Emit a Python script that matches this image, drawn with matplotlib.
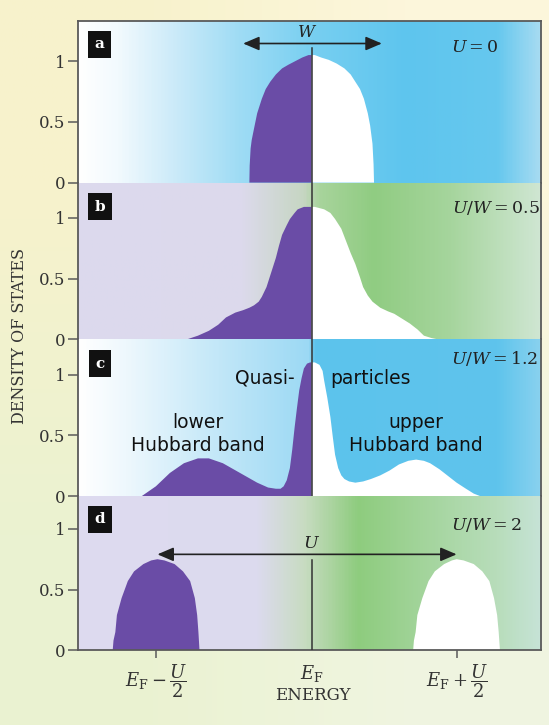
"""
Density of states of the Hubbard model for growing U/W (Mott transition sketch).
"""
import numpy as np
import matplotlib.pyplot as plt
from matplotlib.colors import LinearSegmentedColormap

plt.rcParams["font.family"] = ["DejaVu Serif"]
plt.rcParams["mathtext.fontset"] = "dejavuserif"

# -------------------- Data (energy in units of U/2 from E_F) --------------------
ytick_vals = [0, 0.5, 1]
ytick_labels = ["0", "0.5", "1"]
xtick_vals = [-1.0, 0.0, 0.93]
xtick_labels = [r"$E_{\rm F}-\dfrac{U}{2}$", r"$E_{\rm F}$", r"$E_{\rm F}+\dfrac{U}{2}$"]

panel_letters = ["a", "b", "c", "d"]
panel_titles = [r"$U = 0$", r"$U/W = 0.5$", r"$U/W = 1.2$", r"$U/W = 2$"]

# a: U = 0
a_lo_x = [-0.40, -0.398, -0.392, -0.385, -0.374, -0.35, -0.32, -0.295, -0.266, -0.23, -0.19, -0.15, -0.105, -0.06, -0.02, 0.0]
a_lo_y = [0.0, 0.14, 0.28, 0.35, 0.42, 0.57, 0.69, 0.77, 0.83, 0.89, 0.94, 0.97, 1.00, 1.03, 1.05, 1.05]
a_up_x = [0.0, 0.02, 0.06, 0.11, 0.16, 0.21, 0.25, 0.28, 0.31, 0.335, 0.36, 0.375, 0.39, 0.397, 0.40]
a_up_y = [1.05, 1.05, 1.03, 1.01, 0.98, 0.94, 0.89, 0.83, 0.77, 0.69, 0.57, 0.47, 0.32, 0.15, 0.0]

# b: U/W = 0.5
b_lo_x = [-0.80, -0.73, -0.66, -0.60, -0.55, -0.49, -0.44, -0.40, -0.37, -0.34, -0.32, -0.29, -0.27, -0.25,
          -0.23, -0.21, -0.19, -0.16, -0.14, -0.11, -0.09, -0.05, -0.02, 0.0]
b_lo_y = [0.0, 0.03, 0.07, 0.12, 0.18, 0.22, 0.24, 0.26, 0.28, 0.31, 0.35, 0.43, 0.51, 0.59,
          0.67, 0.77, 0.86, 0.94, 0.99, 1.04, 1.07, 1.09, 1.09, 1.09]
b_up_x = [0.0, 0.02, 0.05, 0.08, 0.12, 0.15, 0.19, 0.22, 0.25, 0.28, 0.31, 0.33, 0.36, 0.39, 0.44, 0.49,
          0.53, 0.58, 0.63, 0.68, 0.72, 0.77, 0.81]
b_up_y = [1.09, 1.09, 1.08, 1.07, 1.04, 0.99, 0.91, 0.81, 0.71, 0.62, 0.51, 0.43, 0.36, 0.31, 0.26, 0.23,
          0.21, 0.17, 0.13, 0.08, 0.03, 0.01, 0.0]

# c: U/W = 1.2
c_lo_x = [-1.09, -1.00, -0.91, -0.82, -0.73, -0.66, -0.57, -0.46, -0.35, -0.28, -0.23, -0.20, -0.18,
          -0.16, -0.14, -0.125, -0.11, -0.095, -0.08, -0.065, -0.05, -0.03, -0.01, 0.0]
c_lo_y = [0.0, 0.08, 0.19, 0.27, 0.31, 0.31, 0.27, 0.19, 0.11, 0.07, 0.06, 0.06, 0.08,
          0.13, 0.23, 0.38, 0.56, 0.72, 0.87, 0.97, 1.05, 1.09, 1.10, 1.10]
c_up_x = [0.0, 0.02, 0.05, 0.07, 0.08, 0.10, 0.12, 0.135, 0.15, 0.17, 0.19, 0.21, 0.24, 0.28, 0.33, 0.38, 0.44,
          0.50, 0.56, 0.62, 0.67, 0.72, 0.76, 0.82, 0.87, 0.93, 0.99, 1.04, 1.08]
c_up_y = [1.10, 1.10, 1.08, 1.03, 0.95, 0.81, 0.65, 0.49, 0.34, 0.23, 0.17, 0.14, 0.12, 0.11, 0.12, 0.14, 0.17,
          0.21, 0.26, 0.29, 0.30, 0.29, 0.27, 0.22, 0.17, 0.11, 0.06, 0.02, 0.0]

# d: U/W = 2
d_lo_x = [-1.277, -1.272, -1.26, -1.25, -1.22, -1.18, -1.14, -1.08, -1.03, -0.99, -0.945, -0.88, -0.826,
          -0.78, -0.75, -0.735, -0.727, -0.72]
d_lo_y = [0.0, 0.08, 0.15, 0.29, 0.43, 0.57, 0.65, 0.71, 0.74, 0.75, 0.74, 0.71, 0.65,
          0.57, 0.43, 0.29, 0.15, 0.0]
d_up_x = [0.651, 0.656, 0.667, 0.678, 0.71, 0.75, 0.79, 0.85, 0.90, 0.93, 0.975, 1.04, 1.095,
          1.14, 1.17, 1.19, 1.20, 1.208]
d_up_y = [0.0, 0.08, 0.15, 0.29, 0.43, 0.57, 0.65, 0.71, 0.74, 0.75, 0.74, 0.71, 0.65,
          0.57, 0.43, 0.29, 0.15, 0.0]

lower_x = [a_lo_x, b_lo_x, c_lo_x, d_lo_x]
lower_y = [a_lo_y, b_lo_y, c_lo_y, d_lo_y]
upper_x = [a_up_x, b_up_x, c_up_x, d_up_x]
upper_y = [a_up_y, b_up_y, c_up_y, d_up_y]

# -------------------- Style --------------------
XLIM = (-1.50, 1.47)
YTOPS = [1.33, 1.29, 1.29, 1.27]
PURPLE = "#6a4ca6"
FRAME = "#5a5a5a"

bg_stops = [
    [(-1.50, "#ffffff"), (-1.25, "#f2fafe"), (-0.9, "#cdebf9"), (-0.5, "#a2ddf5"), (0.0, "#78cff1"),
     (0.6, "#5ec5ee"), (1.2, "#66c8ee"), (1.47, "#a6dbf2")],
    [(-1.50, "#dcd9ee"), (-0.45, "#dcdaec"), (-0.05, "#c6d6c2"), (0.05, "#a8d49c"), (0.4, "#90cc82"),
     (0.9, "#a6d59d"), (1.47, "#cfe6d2")],
    [(-1.50, "#ffffff"), (-1.2, "#eef8fd"), (-0.6, "#c2e7f8"), (-0.02, "#9cd9f4"), (0.02, "#5cc3ec"),
     (1.2, "#5fc4ec"), (1.47, "#88d1ef")],
    [(-1.50, "#dedbf0"), (-0.35, "#dcdaee"), (-0.05, "#c8dcc2"), (0.3, "#8ecc7e"), (0.7, "#a2d49a"),
     (1.2, "#b8ddbb"), (1.47, "#c6e3d6")],
]

fig = plt.figure(figsize=(5.49, 7.25), dpi=100)

# page background
bg = fig.add_axes([0, 0, 1, 1], zorder=-5)
corner = np.array([[[0.97, 0.95, 0.80], [0.99, 0.965, 0.86]],
                   [[0.92, 0.95, 0.82], [0.94, 0.96, 0.88]]])
bg.imshow(corner, interpolation="bilinear", aspect="auto", extent=[0, 1, 0, 1])
bg.axis("off")

gs = fig.add_gridspec(4, 1, left=0.142, right=0.985, bottom=0.103, top=0.971,
                      hspace=0, height_ratios=YTOPS)

arrow_kw = dict(arrowstyle="<|-|>,head_length=0.7,head_width=0.3", color="#222222", lw=1.2,
                mutation_scale=14, shrinkA=0, shrinkB=0)

for i in range(4):
    ax = fig.add_subplot(gs[i])
    ax.set_xlim(*XLIM)
    ax.set_ylim(0, YTOPS[i])

    # horizontal colour gradient behind the curves
    stops = bg_stops[i]
    pos = [(p - XLIM[0]) / (XLIM[1] - XLIM[0]) for p, _ in stops]
    cmap = LinearSegmentedColormap.from_list(f"bg{i}", list(zip(pos, [c for _, c in stops])))
    ax.imshow(np.linspace(0, 1, 400)[None, :], cmap=cmap, aspect="auto",
              extent=[XLIM[0], XLIM[1], 0, YTOPS[i]], zorder=0)

    ax.fill(lower_x[i] + [0.0 if i < 3 else lower_x[i][-1]], lower_y[i] + [0.0],
            color=PURPLE, lw=0, zorder=2)
    ax.fill(upper_x[i] + [upper_x[i][0]], upper_y[i] + [0.0], color="white", lw=0, zorder=2)

    # Fermi level line
    line_top = {0: 1.11, 1: YTOPS[1], 2: YTOPS[2], 3: 0.74}[i]
    ax.plot([0, 0], [0, line_top], color="#333333", lw=1.1, zorder=3)

    ax.text(-1.36, {0: 1.14, 1: 1.09, 2: 1.09, 3: 1.08}[i], panel_letters[i], color="white",
            fontsize=11, fontweight="bold", ha="center", va="center", zorder=5,
            bbox=dict(boxstyle="square,pad=0.42", fc="#111111", ec="none"))
    title_pos = [(1.05, 1.11), (1.18, 1.08), (1.17, 1.13), (1.12, 1.03)][i]
    ax.text(*title_pos, panel_titles[i], fontsize=12.5, ha="center", va="center", color="#222222", zorder=5)

    ax.set_yticks(ytick_vals)
    ax.set_yticklabels(ytick_labels, fontsize=12, color="#333333")
    ax.tick_params(axis="y", direction="out", length=7, width=1.1, color=FRAME, pad=2)

    for side in ["left", "right", "top", "bottom"]:
        ax.spines[side].set_color(FRAME)
        ax.spines[side].set_linewidth(1.3)
    ax.spines["top"].set_visible(i == 0)
    ax.spines["bottom"].set_visible(i == 3)

    if i < 3:
        ax.set_xticks([])
    else:
        ax.set_xticks(xtick_vals)
        ax.set_xticklabels(xtick_labels, fontsize=13, color="#333333", va="top")
        ax.tick_params(axis="x", direction="out", length=6, width=1.1, color=FRAME, pad=3)
        ax.xaxis.get_major_ticks()[1].tick1line.set_visible(False)

    if i == 0:
        ax.annotate("", xy=(-0.44, 1.145), xytext=(0.45, 1.145), arrowprops=arrow_kw, zorder=4)
        ax.text(-0.03, 1.235, r"$W$", fontsize=12, ha="center", va="center", color="#222222")
    if i == 2:
        tkw = dict(family=["DejaVu Sans"], fontsize=13.5, color="#111111", zorder=5)
        ax.text(-0.11, 0.97, "Quasi-", ha="right", va="center", **tkw)
        ax.text(0.12, 0.97, "particles", ha="left", va="center", **tkw)
        ax.text(-0.73, 0.51, "lower\nHubbard band", ha="center", va="center", linespacing=1.25, **tkw)
        ax.text(0.67, 0.51, "upper\nHubbard band", ha="center", va="center", linespacing=1.25, **tkw)
    if i == 3:
        ax.annotate("", xy=(-0.99, 0.79), xytext=(0.93, 0.79), arrowprops=arrow_kw, zorder=4)
        ax.text(0.0, 0.88, r"$U$", fontsize=12.5, ha="center", va="center", color="#222222")

fig.text(0.036, 0.537, "DENSITY OF STATES", rotation=90, ha="center", va="center",
         fontsize=11.5, color="#333333")
fig.text(0.570, 0.040, "ENERGY", ha="center", va="center", fontsize=12, color="#333333")

plt.savefig("out.png", dpi=100)
